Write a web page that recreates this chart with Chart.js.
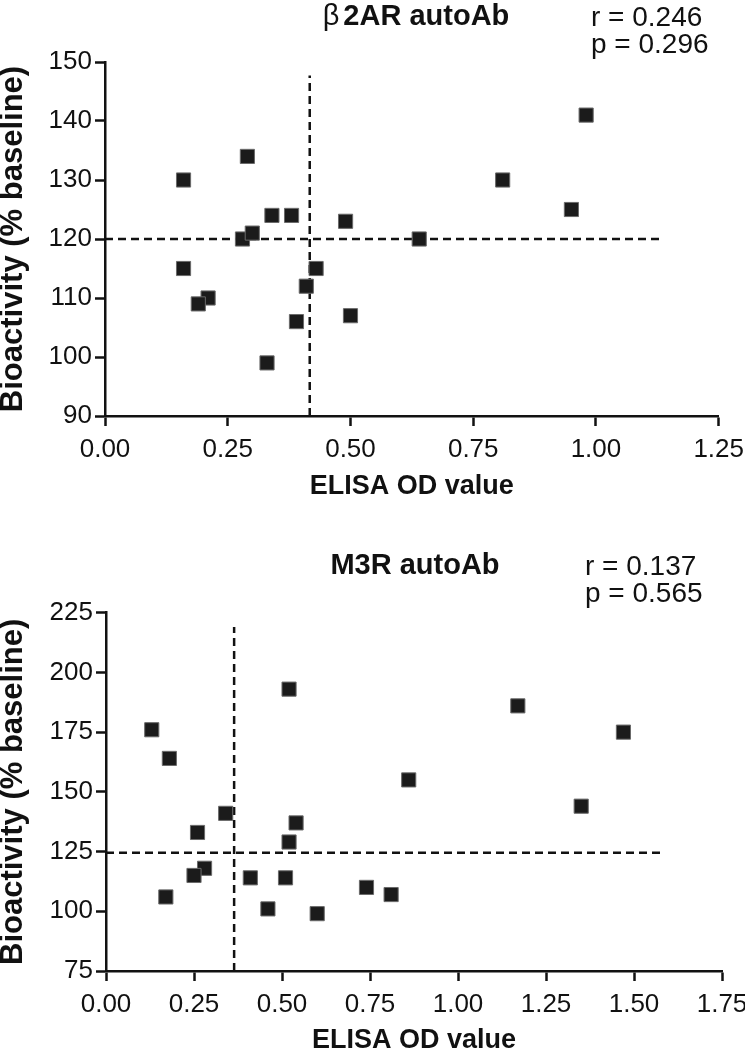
<!DOCTYPE html>
<html>
<head>
<meta charset="utf-8">
<script src="https://cdn.jsdelivr.net/npm/chart.js@4/dist/chart.umd.min.js"></script>
<style>
  html, body { margin: 0; padding: 0; background: #fff; width: 745px; height: 1050px; overflow: hidden; }
  canvas { position: absolute; left: 0; }
  #c1 { top: 0; }
  #c2 { top: 525px; }
</style>
</head>
<body>
<canvas id="c1" width="745" height="525"></canvas>
<canvas id="c2" width="745" height="525"></canvas>
<script>
// ---------- data: beta2AR autoAb ----------
const b2arOD  = [0.16, 0.29, 0.34, 0.38, 0.49, 0.28, 0.30, 0.64, 0.16, 0.43, 0.41, 0.21, 0.19, 0.39, 0.50, 0.33, 0.98, 0.81, 0.95];
const b2arBio = [130,  134,  124,  124,  123,  120,  121,  120,  115,  115,  112,  110,  109,  106,  107,  99,   141,  130,  125];
const b2arCutOD = 0.417;          // vertical dashed line
const b2arCutOD_top = 147.7;      // its upper end (bioactivity)
const b2arCutBio = 120;           // horizontal dashed line
const b2arCutBio_end = 1.134;     // its right end (OD)
const b2arStats = ["r = 0.246", "p = 0.296"];
const b2arXTicks = [0, 0.25, 0.5, 0.75, 1.0, 1.25];
const b2arYTicks = [90, 100, 110, 120, 130, 140, 150];

// ---------- data: M3R autoAb ----------
const m3rOD  = [0.13, 0.18, 0.52, 0.86, 1.17, 1.47, 1.35, 0.34, 0.54, 0.26, 0.52, 0.28, 0.25, 0.41, 0.51, 0.74, 0.81, 0.17, 0.46, 0.60];
const m3rBio = [176,  164,  193,  155,  186,  175,  144,  141,  137,  133,  129,  118,  115,  114,  114,  110,  107,  106,  101,  99];
const m3rCutOD = 0.364;
const m3rCutOD_top = 219;
const m3rCutBio = 124.5;
const m3rCutBio_end = 1.58;
const m3rStats = ["r = 0.137", "p = 0.565"];
const m3rXTicks = [0, 0.25, 0.5, 0.75, 1.0, 1.25, 1.5, 1.75];
const m3rYTicks = [75, 100, 125, 150, 175, 200, 225];

const xTitle = "ELISA OD value";
const yTitle = "Bioactivity (% baseline)";

const FONT = "'Liberation Sans', Arial, Helvetica, sans-serif";
const INK = '#111111';

const annotate = {
  id: 'annotate',
  afterDraw(chart, args, o) {
    const ctx = chart.ctx;
    ctx.save();
    ctx.fillStyle = INK;
    ctx.textBaseline = 'alphabetic';
    ctx.font = `bold ${o.titleSize}px ${FONT}`;
    const wMain = ctx.measureText(o.titleMain).width;
    let wPre = 0;
    if (o.titlePrefix) {
      ctx.font = `${o.titleSize}px ${FONT}`;
      wPre = ctx.measureText(o.titlePrefix).width + o.prefixGap;
    }
    let x0 = o.titleCenter - (wPre + wMain) / 2;
    if (o.titlePrefix) {
      ctx.font = `${o.titleSize}px ${FONT}`;
      ctx.textAlign = 'left';
      ctx.fillText(o.titlePrefix, x0, o.titleBase);
      x0 += wPre;
    }
    ctx.font = `bold ${o.titleSize}px ${FONT}`;
    ctx.textAlign = 'left';
    ctx.fillText(o.titleMain, x0, o.titleBase);
    ctx.font = `${o.statSize}px ${FONT}`;
    o.stats.forEach((s, i) => ctx.fillText(s, o.statX, o.statBase + i * o.statGap));
    ctx.restore();
  }
};

function sq(xs, ys) { return xs.map((x, i) => ({ x: x, y: ys[i] })); }

function makeChart(id, cfg) {
  const axisLine = { display: true, color: INK, width: 2.5 };
  const grid = { drawOnChartArea: false, drawTicks: true, tickLength: 10, tickWidth: 2.5, tickColor: INK };
  return new Chart(document.getElementById(id), {
    type: 'scatter',
    data: {
      datasets: [
        {
          data: sq(cfg.xs, cfg.ys),
          pointStyle: 'rect',
          pointRadius: 10,
          pointHoverRadius: 10,
          backgroundColor: '#1b1b1b',
          borderColor: '#6a6a6a',
          borderWidth: 1,
          clip: false
        },
        {
          data: [{ x: 0, y: cfg.cutBio }, { x: cfg.cutBioEnd, y: cfg.cutBio }],
          showLine: true, pointRadius: 0, borderColor: INK, borderWidth: 2.5,
          borderDash: [8, 5], clip: false
        },
        {
          data: [{ x: cfg.cutOD, y: cfg.yTicks[0] }, { x: cfg.cutOD, y: cfg.cutODTop }],
          showLine: true, pointRadius: 0, borderColor: INK, borderWidth: 2.5,
          borderDash: [8, 5], clip: false
        }
      ]
    },
    options: {
      responsive: false,
      animation: false,
      events: [],
      layout: { padding: cfg.padding },
      plugins: {
        legend: { display: false },
        tooltip: { enabled: false },
        title: { display: false },
        annotate: cfg.annot
      },
      scales: {
        x: {
          type: 'linear',
          min: cfg.xTicks[0], max: cfg.xTicks[cfg.xTicks.length - 1],
          afterBuildTicks: (ax) => { ax.ticks = cfg.xTicks.map(v => ({ value: v })); },
          ticks: {
            color: INK, padding: 8, maxRotation: 0, autoSkip: false,
            font: { family: FONT, size: 26 },
            callback: (v) => Number(v).toFixed(2)
          },
          grid: grid,
          border: axisLine,
          title: {
            display: true, text: xTitle, color: INK,
            font: { family: FONT, size: 27, weight: 'bold', lineHeight: 0.5 },
            padding: 0
          },
          afterFit: (ax) => { ax.height = cfg.xAxisH; ax.paddingLeft = 0; ax.paddingRight = 0; }
        },
        y: {
          type: 'linear',
          min: cfg.yTicks[0], max: cfg.yTicks[cfg.yTicks.length - 1],
          afterBuildTicks: (ax) => { ax.ticks = cfg.yTicks.map(v => ({ value: v })); },
          ticks: {
            color: INK, padding: 3, autoSkip: false,
            font: { family: FONT, size: 26 },
            callback: (v) => String(v)
          },
          grid: grid,
          border: axisLine,
          title: {
            display: true, text: yTitle, color: INK,
            font: { family: FONT, size: 31, weight: 'bold', lineHeight: 0.8 },
            padding: { top: 1, bottom: 0 }
          },
          afterFit: (ax) => { ax.width = cfg.yAxisW; ax.paddingTop = 0; ax.paddingBottom = 0; }
        }
      }
    },
    plugins: [annotate]
  });
}

makeChart('c1', {
  xs: b2arOD, ys: b2arBio,
  cutOD: b2arCutOD, cutODTop: b2arCutOD_top, cutBio: b2arCutBio, cutBioEnd: b2arCutBio_end,
  xTicks: b2arXTicks, yTicks: b2arYTicks,
  padding: { left: 0, right: 26.3, top: 62, bottom: 31.25 },
  xAxisH: 77.75, yAxisW: 105,
  annot: {
    titlePrefix: 'β', prefixGap: 4, titleMain: '2AR autoAb', titleSize: 29,
    titleCenter: 416, titleBase: 25,
    stats: b2arStats, statX: 591, statBase: 26, statGap: 26.5, statSize: 28
  }
});

makeChart('c2', {
  xs: m3rOD, ys: m3rBio,
  cutOD: m3rCutOD, cutODTop: m3rCutOD_top, cutBio: m3rCutBio, cutBioEnd: m3rCutBio_end,
  xTicks: m3rXTicks, yTicks: m3rYTicks,
  padding: { left: 0, right: 23, top: 87.7, bottom: 2.25 },
  xAxisH: 76.75, yAxisW: 106,
  annot: {
    titlePrefix: '', prefixGap: 0, titleMain: 'M3R autoAb', titleSize: 29,
    titleCenter: 415, titleBase: 49,
    stats: m3rStats, statX: 585, statBase: 50, statGap: 26.5, statSize: 28
  }
});
</script>
</body>
</html>
